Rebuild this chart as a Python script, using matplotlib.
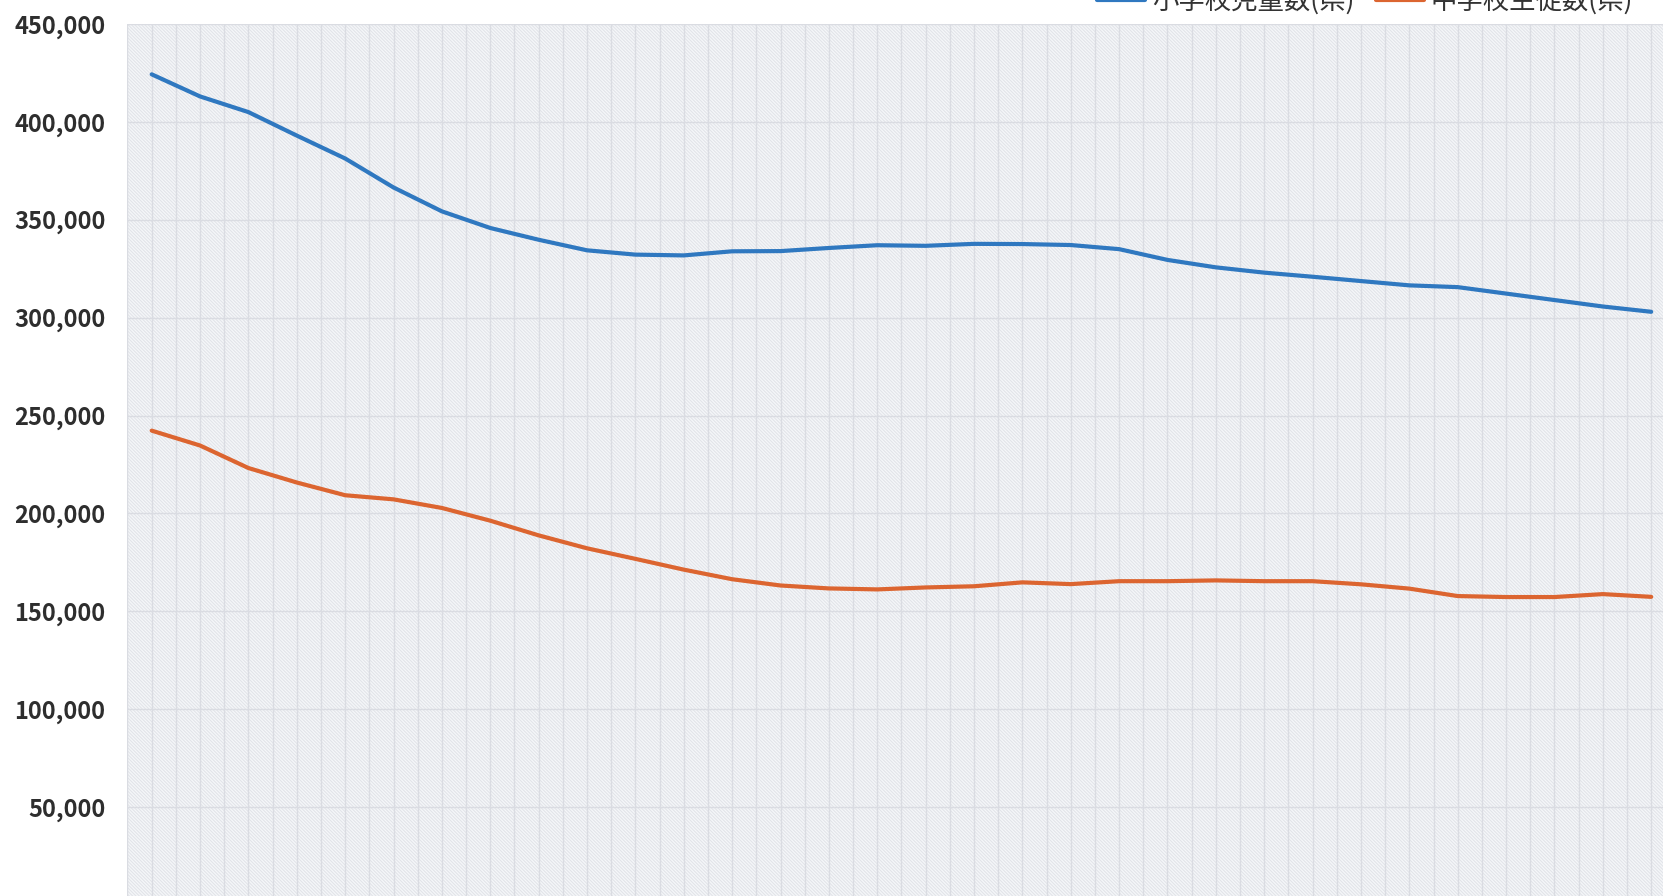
import numpy as np
import matplotlib
matplotlib.use("Agg")
import matplotlib.pyplot as plt
from matplotlib.patches import Rectangle
from matplotlib.ticker import FuncFormatter

plt.rcParams['font.family'] = ['Noto Sans CJK JP', 'DejaVu Sans']
plt.rcParams['hatch.linewidth'] = 0.8

# Data
series_names = ["小学校児童数(県)", "中学校生徒数(県)"]
elementary = [424300, 413000, 405000, 393000, 381300, 366500, 354300, 345800,
              339800, 334400, 332200, 331800, 333900, 334000, 335600, 337000,
              336700, 337700, 337600, 337100, 335000, 329500, 325700, 323000,
              320900, 318700, 316500, 315600, 312300, 309000, 305700, 303000]
junior = [242300, 234700, 223200, 215800, 209300, 207200, 202800, 196300,
          188800, 182200, 176800, 171300, 166400, 163200, 161700, 161200,
          162200, 162800, 164800, 163900, 165400, 165400, 165800, 165400,
          165400, 163800, 161600, 157800, 157300, 157300, 158800, 157400]
y_ticks = [50000, 100000, 150000, 200000, 250000, 300000, 350000, 400000, 450000]

W, H = 1663, 896
fig = plt.figure(figsize=(W / 100, H / 100), dpi=100)
fig.patch.set_facecolor('white')

left_px, right_px = 127.5, 1675.4
top_px, bottom_px = 24, 905
ax = fig.add_axes([left_px / W, (H - bottom_px) / H,
                   (right_px - left_px) / W, (bottom_px - top_px) / H])
ax.set_facecolor('#f6f7f9')
ax.add_patch(Rectangle((0, 0), 1, 1, transform=ax.transAxes, fill=False,
                       hatch='\\\\\\\\\\\\\\\\\\\\', edgecolor='#e2e4e9',
                       linewidth=0, zorder=0))

x = np.arange(len(elementary))
ax.plot(x, elementary, color='#2f78c0', lw=3.0, solid_capstyle='round',
        label=series_names[0], zorder=3)
ax.plot(x, junior, color='#dc6530', lw=3.0, solid_capstyle='round',
        label=series_names[1], zorder=3)

ax.set_xlim(-0.5, len(elementary) - 0.5)
ax.set_ylim(0, 450000)
ax.set_xticks(np.arange(-0.5, len(elementary), 0.5))
ax.set_xticklabels([])
ax.set_yticks(y_ticks)
ax.yaxis.set_major_formatter(FuncFormatter(lambda v, p: f"{int(v):,}"))
ax.tick_params(axis='both', length=0)
ax.tick_params(axis='y', labelsize=17, labelcolor='#2e2e2e', pad=16)
for lab in ax.get_yticklabels():
    lab.set_fontweight('bold')
ax.grid(True, color='#dadce2', lw=1.0, zorder=1)
for s in ax.spines.values():
    s.set_visible(False)

leg = fig.legend(loc='center', bbox_to_anchor=(1365 / W, (H - 1) / H),
                 ncol=2, frameon=False, fontsize=19, handlelength=1.85,
                 handletextpad=0.25, columnspacing=0.8)
for t in leg.get_texts():
    t.set_color('#333333')

fig.savefig('out.png', dpi=100, facecolor='white')
